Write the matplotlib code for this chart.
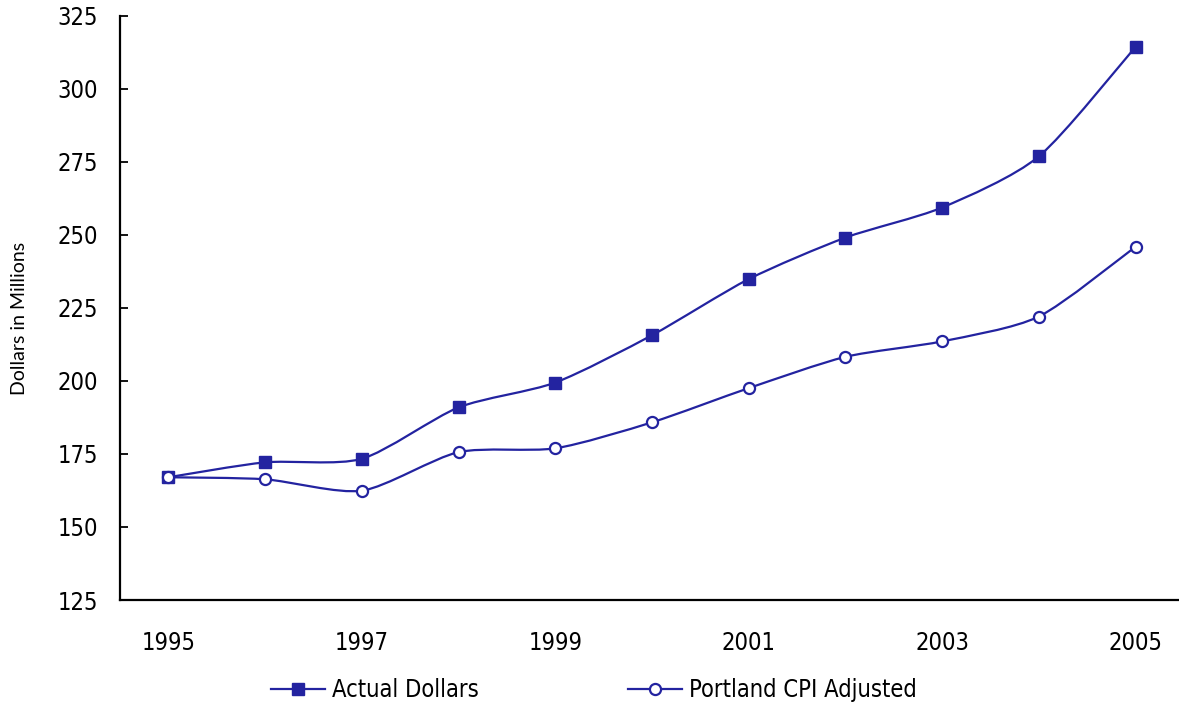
import numpy as np
import matplotlib
matplotlib.use('Agg')
import matplotlib.pyplot as plt
from matplotlib.path import Path
from matplotlib.patches import PathPatch
from matplotlib.lines import Line2D
from matplotlib import font_manager

# Data
years = [1995, 1996, 1997, 1998, 1999, 2000, 2001, 2002, 2003, 2004, 2005]
actual_dollars = [167.0, 172.1, 173.3, 190.9, 199.4, 215.6, 234.8, 249.0, 259.3, 276.8, 314.3]
cpi_adjusted = [167.0, 166.3, 162.4, 175.6, 176.9, 185.8, 197.5, 208.2, 213.5, 222.0, 245.9]
year_labels = ['1995', '1997', '1999', '2001', '2003', '2005']
series_names = ['Actual Dollars', 'Portland CPI Adjusted']

BLUE = '#2323a0'


def narrow_font(size):
    """Pick a narrow sans font if one is installed, else plain Liberation Sans"""
    for f in font_manager.fontManager.ttflist:
        if f.name == 'Liberation Sans Narrow' and f.weight == 400 and f.style == 'normal':
            return font_manager.FontProperties(fname=f.fname, size=size)
    for f in font_manager.fontManager.ttflist:
        if (f.name == 'DejaVu Sans' and 'condensed' in str(f.stretch).lower()
                and f.weight == 400 and f.style == 'normal'):
            return font_manager.FontProperties(fname=f.fname, size=size)
    return font_manager.FontProperties(family=['Liberation Sans', 'DejaVu Sans'], size=size)


def smooth_path(x, y, k=1 / 8.0):
    """Bezier path through the points, softened like Excel smoothed lines"""
    pts = np.column_stack([x, y]).astype(float)
    n = len(pts)
    verts = [pts[0]]
    codes = [Path.MOVETO]
    for i in range(n - 1):
        p0 = pts[max(i - 1, 0)]
        p1 = pts[i]
        p2 = pts[i + 1]
        p3 = pts[min(i + 2, n - 1)]
        verts += [p1 + (p2 - p0) * k, p2 - (p3 - p1) * k, p2]
        codes += [Path.CURVE4] * 3
    return Path(verts, codes)


tick_font = narrow_font(17)

fig = plt.figure(figsize=(11.79, 7.04), dpi=100)
ax = fig.add_axes([120 / 1179, 104 / 704, 1064 / 1179, 584.5 / 704])

# Actual dollars
ax.add_patch(PathPatch(smooth_path(years, actual_dollars), fill=False,
                       edgecolor=BLUE, linewidth=1.6, zorder=2))
ax.plot(years, actual_dollars, linestyle='none', marker='s', markersize=8.5,
        color=BLUE, zorder=3)

# CPI adjusted
ax.add_patch(PathPatch(smooth_path(years, cpi_adjusted), fill=False,
                       edgecolor=BLUE, linewidth=1.6, zorder=2))
ax.plot(years, cpi_adjusted, linestyle='none', marker='o', markersize=8,
        markerfacecolor='white', markeredgecolor=BLUE, markeredgewidth=1.6, zorder=3)

ax.set_xlim(1994.5, 2005.5)
ax.set_ylim(125, 325)
ax.set_yticks(np.arange(125, 326, 25))
ax.set_xticks([int(s) for s in year_labels])
ax.set_xticklabels(year_labels)

for s in ['top', 'right']:
    ax.spines[s].set_visible(False)
for s in ['left', 'bottom']:
    ax.spines[s].set_linewidth(1.6)

ax.tick_params(axis='y', direction='in', length=6, width=1.3, pad=16)
ax.tick_params(axis='x', length=0, pad=22)
for lbl in ax.get_xticklabels() + ax.get_yticklabels():
    lbl.set_fontproperties(tick_font)

fig.text(20 / 1179, 1 - 318 / 704, 'Dollars in Millions', rotation=90,
         ha='center', va='center', fontsize=14, family=['Lato', 'DejaVu Sans'])

handles = [
    Line2D([], [], color=BLUE, linewidth=1.6, marker='s', markersize=8.5),
    Line2D([], [], color=BLUE, linewidth=1.6, marker='o', markersize=8,
           markerfacecolor='white', markeredgewidth=1.6),
]
fig.legend(handles, series_names, loc='center', bbox_to_anchor=(594 / 1179, 14 / 704),
           ncol=2, frameon=False, handlelength=2.3, handletextpad=0.3,
           columnspacing=6.3, prop=tick_font)

fig.savefig('out.png', dpi=100)
